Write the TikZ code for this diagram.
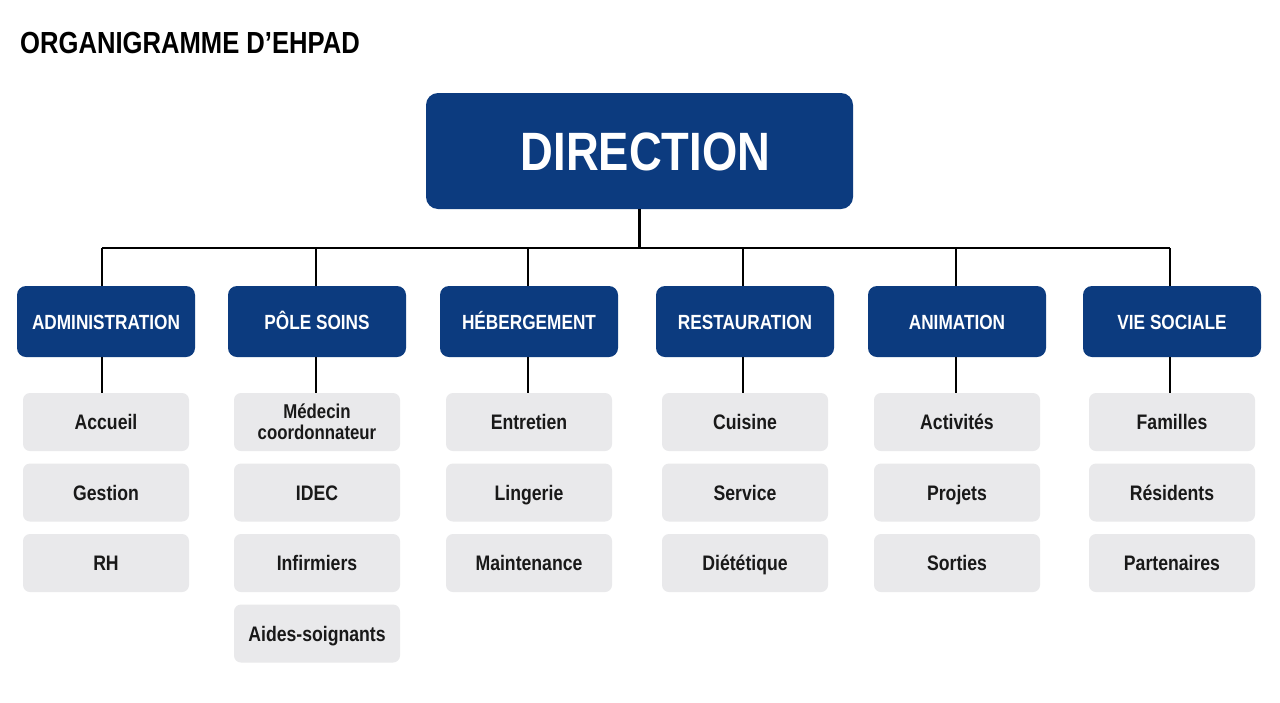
\documentclass[tikz,border=0pt]{standalone}
\usepackage{fontspec}
\setmainfont[FakeStretch=0.84]{Liberation Sans}
\definecolor{ehpadblue}{HTML}{0C3B7F}
\definecolor{ehpadgray}{HTML}{E9E9EB}
\tikzset{
  dirbox/.style={fill=ehpadblue, rounded corners=12pt, minimum width=427pt, minimum height=116pt,
    text=white, text height=39pt, text depth=0pt, font=\bfseries\fontsize{54}{60}\selectfont},
  polebox/.style={fill=ehpadblue, rounded corners=9pt, minimum width=178pt, minimum height=71pt,
    text=white, text height=15pt, text depth=0pt, font=\bfseries\fontsize{20.5}{24}\selectfont},
  subbox/.style={fill=ehpadgray, rounded corners=7pt, minimum width=166pt, minimum height=58pt,
    text=black!90, text height=15pt, text depth=0pt, font=\bfseries\fontsize{21}{21}\selectfont},
  link/.style={black, line width=2.5pt}
}

\begin{document}
\begin{tikzpicture}[x=1pt,y=-1pt]
\useasboundingbox[fill=white] (0,0) rectangle (1280,702);
\node[anchor=base west, inner sep=0pt, font=\bfseries\fontsize{30.5}{34}\selectfont] (titre) at (20,53) {ORGANIGRAMME D’EHPAD};
\node[dirbox] (dir) at (639.5,151) {\hspace{12pt}DIRECTION};
% les poles
\node[polebox] (adm) at (106,321.5) {ADMINISTRATION};
\node[polebox] (soins) at (317,321.5) {PÔLE SOINS};
\node[polebox] (heb) at (529,321.5) {HÉBERGEMENT};
\node[polebox] (rest) at (745,321.5) {RESTAURATION};
\node[polebox] (anim) at (957,321.5) {ANIMATION};
\node[polebox] (vie) at (1172,321.5) {VIE SOCIALE};
% les services
\foreach \txt [count=\i] in {Accueil,Gestion,RH}
  \node[subbox] (adm-\i) at (106,{422+70.5*(\i-1)}) {\txt};
\node[subbox, text height=, text depth=, align=center, font=\bfseries\fontsize{20}{21}\selectfont] (soins-1) at (317,422) {Médecin\\coordonnateur};
\foreach \txt [count=\i from 2] in {IDEC,Infirmiers,Aides-soignants}
  \node[subbox] (soins-\i) at (317,{422+70.5*(\i-1)}) {\txt};
\foreach \txt [count=\i] in {Entretien,Lingerie,Maintenance}
  \node[subbox] (heb-\i) at (529,{422+70.5*(\i-1)}) {\txt};
\foreach \txt [count=\i] in {Cuisine,Service,Diététique}
  \node[subbox] (rest-\i) at (745,{422+70.5*(\i-1)}) {\txt};
\foreach \txt [count=\i] in {Activités,Projets,Sorties}
  \node[subbox] (anim-\i) at (957,{422+70.5*(\i-1)}) {\txt};
\foreach \txt [count=\i] in {Familles,Résidents,Partenaires}
  \node[subbox] (vie-\i) at (1172,{422+70.5*(\i-1)}) {\txt};
% liaisons
\coordinate (bus) at (639.5,248);
\draw[link] (dir.south) -- (bus);
\draw[link] ([xshift=-4pt]adm.north |- bus) -- ([xshift=-2pt]vie.north |- bus);
\foreach \p/\dx in {adm/-4,soins/-1,heb/-1,rest/-2,anim/-1,vie/-2} {
  \draw[link] ([xshift=\dx pt]\p.north) -- ([xshift=\dx pt]\p.north |- bus);
  \draw[link] ([xshift=\dx pt]\p.south) -- ([xshift=\dx pt]\p-1.north);
}
\end{tikzpicture}
\end{document}
